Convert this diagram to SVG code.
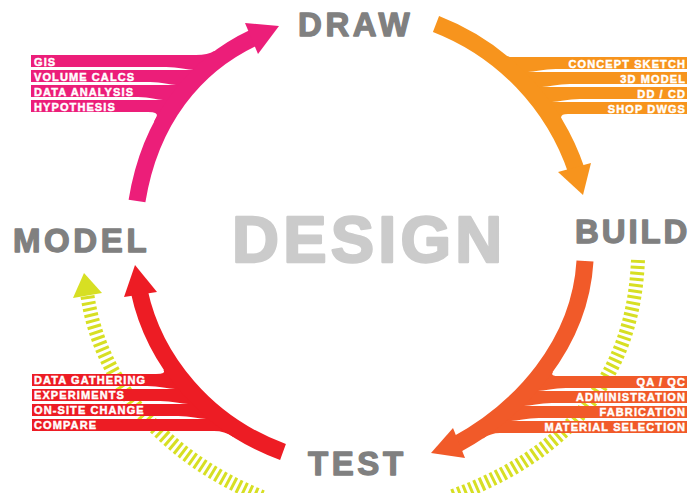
<svg xmlns="http://www.w3.org/2000/svg" width="690" height="493" viewBox="0 0 690 493">
  <style>
    .title{font-family:"Liberation Sans",Arial,Helvetica,sans-serif;font-weight:bold;font-size:33px;fill:#808080;stroke:#808080;stroke-width:1.3px;stroke-linejoin:round;letter-spacing:3.6px}
    .core{font-family:"Liberation Sans",Arial,Helvetica,sans-serif;font-weight:bold;font-size:65px;fill:#cbcbcb;stroke:#cbcbcb;stroke-width:2.4px;stroke-linejoin:round;letter-spacing:4.2px}
    .lbl{font-family:"Liberation Sans",Arial,Helvetica,sans-serif;font-weight:bold;font-size:11px;fill:#ffffff;stroke:#ffffff;stroke-width:0.45px;letter-spacing:1.1px}
    .end{text-anchor:end}
    .body{fill:none;stroke-width:17;stroke-linecap:butt}
    .dash{fill:none;stroke:#d7df23;stroke-width:14;stroke-dasharray:3 3}
    .pink{fill:#ec1e79}.pink-s{stroke:#ec1e79}
    .orange{fill:#f7941d}.orange-s{stroke:#f7941d}
    .rust{fill:#f15a29}.rust-s{stroke:#f15a29}
    .red{fill:#ed1c24}.red-s{stroke:#ed1c24}
  </style>
  <defs>
    <!-- thin tapering gaps between the label bars -->
    <mask id="gap-pink" maskUnits="userSpaceOnUse" x="0" y="0" width="690" height="493">
      <rect width="690" height="493" fill="#fff"/>
      <path fill="#000" d="M31,67 H166 C178,67 188,70 194,70 H31 Z M31,82 H150 C162,82 170,85 176,85 H31 Z M31,97 H138 C150,97 157,100 163,100 H31 Z"/>
    </mask>
    <mask id="gap-orange" maskUnits="userSpaceOnUse" x="0" y="0" width="690" height="493">
      <rect width="690" height="493" fill="#fff"/>
      <path fill="#000" d="M688,69 H556 C544,69 534,72 528,72 H688 Z M688,84 H570 C558,84 548,87 542,87 H688 Z M688,99 H580 C568,99 558,102 552,102 H688 Z"/>
    </mask>
    <mask id="gap-rust" maskUnits="userSpaceOnUse" x="0" y="0" width="690" height="493">
      <rect width="690" height="493" fill="#fff"/>
      <path fill="#000" d="M688,388 H566 C554,388 544,391 538,391 H688 Z M688,403 H552 C540,403 530,406 524,406 H688 Z M688,418 H539 C527,418 517,421 511,421 H688 Z"/>
    </mask>
    <mask id="gap-red" maskUnits="userSpaceOnUse" x="0" y="0" width="690" height="493">
      <rect width="690" height="493" fill="#fff"/>
      <path fill="#000" d="M32,386 H147 C159,386 169,389 175,389 H32 Z M32,401 H160 C172,401 182,404 188,404 H32 Z M32,416 H178 C190,416 200,419 206,419 H32 Z"/>
    </mask>
  </defs>

  <g id="connectors">
    <!-- dashed feedback loops -->
    <g id="loop-left">
      <path class="dash" d="M87.5,296 C100,380 160,455 262,497"/>
      <polygon fill="#d7df23" points="84,273 73,298 102,293"/>
    </g>
    <path id="loop-right" class="dash" d="M638,260 C635,330 610,440 450,497"/>

    <!-- MODEL to DRAW -->
    <g id="arrow-model-draw">
      <path class="pink" mask="url(#gap-pink)" d="M31,55 H196 Q208,55 214.2,51 L227,53 L204.5,70.5 L190.6,84.1 L178,99.4 L172,108 L161.5,125.4 L154,121.4 L156.4,117 Q159,112 148,112 H31 Z"/>
      <path class="body pink-s" d="M137,201 C150,120 195,65 254,37.5"/>
      <polygon class="pink" points="279,26 245,23 258,54"/>
      <text class="lbl" x="34" y="65.5">GIS</text>
      <text class="lbl" x="34" y="80.5">VOLUME CALCS</text>
      <text class="lbl" x="34" y="95.5">DATA ANALYSIS</text>
      <text class="lbl" x="34" y="110.5">HYPOTHESIS</text>
    </g>

    <!-- DRAW to BUILD -->
    <g id="arrow-draw-build">
      <path class="orange" mask="url(#gap-orange)" d="M687,57 H512 Q506.5,57 501.6,53 L490,55 L512,73 L529,90 L543.5,108 L555,125 L562.4,121 Q558,114 568,114 H687 Z"/>
      <path class="body orange-s" d="M436,24 A240,240 0 0 1 576.6,171"/>
      <polygon class="orange" points="583,195 558,172 591,163"/>
      <text class="lbl end" x="686" y="67.5">CONCEPT SKETCH</text>
      <text class="lbl end" x="686" y="82.5">3D MODEL</text>
      <text class="lbl end" x="686" y="97.5">DD / CD</text>
      <text class="lbl end" x="686" y="112.5">SHOP DWGS</text>
    </g>

    <!-- BUILD to TEST -->
    <g id="arrow-build-test">
      <path class="rust" mask="url(#gap-rust)" d="M687,376 H558 Q550,376 553,372 L543,371 L528.1,388.9 L512.1,405 L495.1,419.4 L477.3,432.2 L483,438.5 Q490.7,433 500,433 H687 Z"/>
      <path class="body rust-s" d="M585,261 C580,345 520,410 456.4,444.4"/>
      <polygon class="rust" points="431,453 453,428 465,458"/>
      <text class="lbl end" x="686" y="386">QA / QC</text>
      <text class="lbl end" x="686" y="401">ADMINISTRATION</text>
      <text class="lbl end" x="686" y="416">FABRICATION</text>
      <text class="lbl end" x="686" y="431">MATERIAL SELECTION</text>
    </g>

    <!-- TEST to MODEL -->
    <g id="arrow-test-model">
      <path class="red" mask="url(#gap-red)" d="M32,374 H156 Q166.5,374 163.5,370 L174.1,370 L187.9,387.25 L203.5,403.3 L220.8,417.9 L239.9,431.2 L233,436.7 Q224.8,431 214,431 H32 Z"/>
      <path class="body red-s" d="M283,452 C206,424 154,360 139.2,291.1"/>
      <polygon class="red" points="135,265 124,297 157,292"/>
      <text class="lbl" x="34" y="384">DATA GATHERING</text>
      <text class="lbl" x="34" y="399">EXPERIMENTS</text>
      <text class="lbl" x="34" y="414">ON-SITE CHANGE</text>
      <text class="lbl" x="34" y="429">COMPARE</text>
    </g>
  </g>

  <g id="node-design"><text class="core" x="232" y="262">DESIGN</text></g>
  <g id="node-draw"><text class="title" x="298" y="36">DRAW</text></g>
  <g id="node-build"><text class="title" x="575" y="243" style="letter-spacing:2.9px">BUILD</text></g>
  <g id="node-test"><text class="title" x="308" y="475">TEST</text></g>
  <g id="node-model"><text class="title" x="13" y="252">MODEL</text></g>
</svg>
